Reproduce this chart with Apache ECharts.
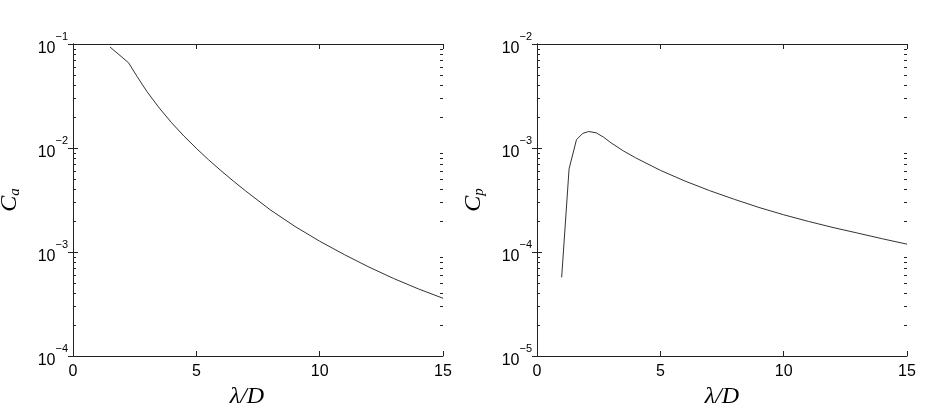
<!DOCTYPE html>
<html>

<head>
  <meta charset="utf-8" />
  <title></title>
  <script src="https://cdn.jsdelivr.net/npm/echarts@6/dist/echarts.min.js"></script>
  <style>
    body { margin: 0; background: #fff; }
  </style>
</head>

<body>
  <div id="main" style="width: 927px;height:410px;"></div>
  <script type="text/javascript">
    // left panel: C_a vs lambda/D
    var caX = [1.5, 2.25, 2.6, 3, 3.5, 4, 4.5, 5, 5.5, 6, 6.5, 7, 8, 9, 10, 11, 12, 13, 14, 15];
    var caY = [0.0935, 0.0661, 0.0486, 0.0348, 0.0242, 0.01746, 0.0130, 0.00993, 0.00769, 0.00605, 0.00481, 0.00386, 0.00254, 0.00176, 0.00127, 0.000944, 0.000716, 0.000556, 0.000442, 0.000359];
    // right panel: C_p vs lambda/D
    var cpX = [1.0, 1.3, 1.6, 1.85, 2.1, 2.4, 2.7, 3, 3.5, 4, 5, 6, 7, 8, 9, 10, 11, 12, 13, 14, 15];
    var cpY = [5.7e-5, 6.3e-4, 1.2e-3, 1.38e-3, 1.44e-3, 1.4e-3, 1.27e-3, 1.122e-3, 9.38e-4, 8.04e-4, 6.10e-4, 4.81e-4, 3.89e-4, 3.21e-4, 2.68e-4, 2.28e-4, 1.97e-4, 1.72e-4, 1.52e-4, 1.34e-4, 1.19e-4];
    var xTicks = [0, 5, 10, 15];
    var caRange = [1e-4, 1e-1];
    var cpRange = [1e-5, 1e-2];

    function minorTicks(range) {
      var out = [];
      for (var d = range[0]; d < range[1] * 0.999; d *= 10) {
        for (var m = 2; m <= 9; m++) out.push(d * m);
      }
      return out;
    }

    function powLabel(v) {
      var e = Math.round(Math.log10(v));
      return '{b|10}{s|' + String(e).replace('-', '\u2212') + '}';
    }

    var labelRich = {
      b: { fontSize: 16, fontFamily: 'Liberation Sans', color: '#000', verticalAlign: 'bottom', padding: [9, 0, 0, 0] },
      s: { fontSize: 11, fontFamily: 'Liberation Sans', color: '#000', verticalAlign: 'top' }
    };
    var nameRich = {
      n: { fontSize: 24, fontFamily: 'Liberation Serif', fontStyle: 'italic', color: '#000' },
      sub: { fontSize: 15, fontFamily: 'Liberation Serif', fontStyle: 'italic', color: '#000', verticalAlign: 'bottom', padding: [12, 0, 0, 0] }
    };

    var lineCol = '#222';
    var grids = [
      { left: 73, top: 44, width: 370, height: 312, containLabel: false, outerBoundsMode: 'none' },
      { left: 537, top: 44, width: 370, height: 312, containLabel: false, outerBoundsMode: 'none' }
    ];

    function xAxes(gi, namePad) {
      return [{
        type: 'value', gridIndex: gi, min: 0, max: 15, interval: 5, position: 'bottom',
        name: '{n|\u03bb/D}', nameLocation: 'middle', nameGap: 19,
        nameTextStyle: { rich: nameRich, padding: namePad },
        axisLine: { lineStyle: { color: lineCol, width: 1 } },
        axisTick: { inside: true, length: 5, lineStyle: { color: lineCol } },
        axisLabel: {
          fontSize: 16, fontFamily: 'Liberation Sans', color: '#000', margin: 8,
          formatter: function (v) { return xTicks.indexOf(v) >= 0 ? String(v) : ''; }
        },
        splitLine: { show: false }
      }, {
        type: 'value', gridIndex: gi, min: 0, max: 15, interval: 5, position: 'top',
        axisLine: { lineStyle: { color: lineCol, width: 1 } },
        axisTick: { inside: true, length: 5, lineStyle: { color: lineCol } },
        axisLabel: { show: false },
        splitLine: { show: false }
      }];
    }

    function yAxes(gi, range, nameStr) {
      return [{
        type: 'log', logBase: 10, gridIndex: gi, min: range[0], max: range[1], position: 'left',
        name: nameStr, nameLocation: 'middle', nameGap: 50, nameRotate: 90,
        nameTextStyle: { rich: nameRich },
        axisLine: { lineStyle: { color: lineCol, width: 1 } },
        axisTick: { inside: true, length: 5, lineStyle: { color: lineCol } },
        axisLabel: { margin: 5, formatter: powLabel, rich: labelRich },
        splitLine: { show: false }
      }, {
        type: 'log', logBase: 10, gridIndex: gi, min: range[0], max: range[1], position: 'right',
        axisLine: { lineStyle: { color: lineCol, width: 1 } },
        axisTick: { inside: true, length: 5, lineStyle: { color: lineCol } },
        axisLabel: { show: false },
        splitLine: { show: false }
      }];
    }

    // short inward minor tick (side 0 = left edge, 1 = right edge)
    function minorRender(params, api) {
      var side = api.value(0);
      var p = api.coord([side === 0 ? 0 : 15, api.value(1)]);
      var y = Math.round(p[1]);
      var x = side === 0 ? Math.round(p[0]) : Math.round(p[0]) - 3;
      return {
        type: 'rect',
        shape: { x: x, y: y, width: 3, height: 1 },
        style: { fill: lineCol }
      };
    }

    function minorData(range) {
      var out = [];
      minorTicks(range).forEach(function (v) {
        out.push([0, v]);
        out.push([1, v]);
      });
      return out;
    }

    function pairs(xs, ys) {
      return xs.map(function (x, i) { return [x, ys[i]]; });
    }

    var chart = echarts.init(document.getElementById('main'));
    var option = {
      animation: false,
      backgroundColor: '#fff',
      grid: grids,
      xAxis: xAxes(0, [0, 22, 0, 0]).concat(xAxes(1, [0, 0, 0, 0])),
      yAxis: yAxes(0, caRange, '{n|C}{sub|a}').concat(yAxes(1, cpRange, '{n|C}{sub|p}')),
      series: [
        {
          type: 'line', xAxisIndex: 0, yAxisIndex: 0, data: pairs(caX, caY),
          showSymbol: false, lineStyle: { color: '#333', width: 1 }
        },
        {
          type: 'line', xAxisIndex: 2, yAxisIndex: 2, data: pairs(cpX, cpY),
          showSymbol: false, lineStyle: { color: '#333', width: 1 }
        },
        {
          type: 'custom', xAxisIndex: 0, yAxisIndex: 0, renderItem: minorRender,
          data: minorData(caRange), silent: true, clip: false, z: 10
        },
        {
          type: 'custom', xAxisIndex: 2, yAxisIndex: 2, renderItem: minorRender,
          data: minorData(cpRange), silent: true, clip: false, z: 10
        }
      ]
    };
    chart.setOption(option);

    window.onresize = function () {
      chart.resize();
    };
  </script>
</body>

</html>
